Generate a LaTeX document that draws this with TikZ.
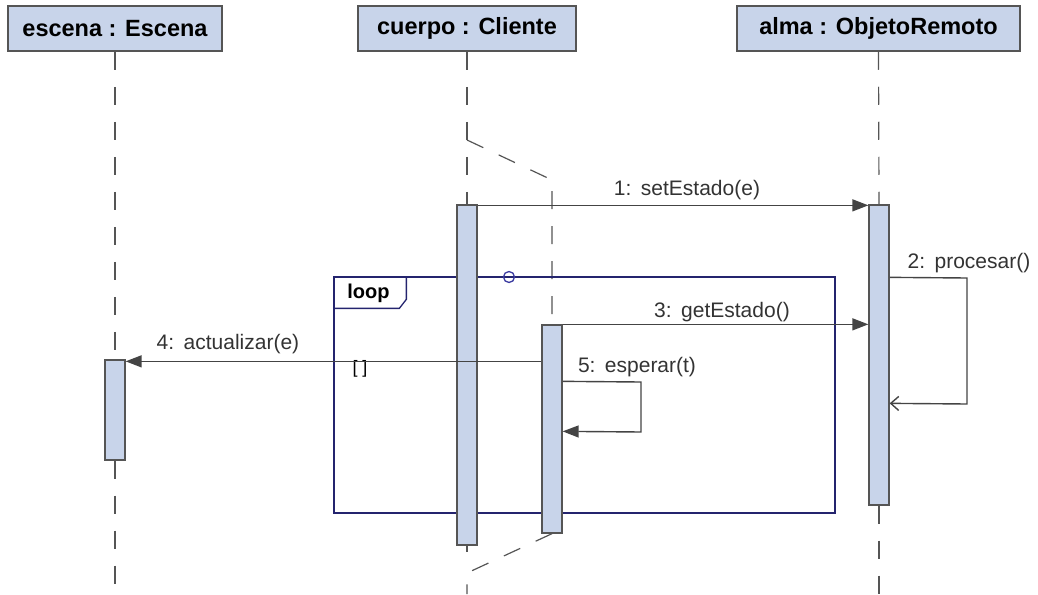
\documentclass[tikz,border=0pt]{standalone}
\usepackage{fontspec}
\setmainfont{Liberation Sans}
\usetikzlibrary{arrows.meta,calc}
\definecolor{barfill}{HTML}{C8D4EA}
\definecolor{edge}{HTML}{555555}
\definecolor{navy}{HTML}{24246E}
\definecolor{msgc}{HTML}{444444}
\definecolor{gatec}{HTML}{3A3AA0}
\pgfdeclarelayer{bg}
\pgfsetlayers{bg,main}
\begin{document}
\begin{tikzpicture}[x=1pt,y=-1pt,
  head/.style={draw=edge,fill=barfill,line width=1.5pt,minimum height=45pt,inner sep=0,
    font=\fontsize{23.5}{27}\selectfont\bfseries},
  bar/.style={draw=edge,fill=barfill,line width=1.3pt,minimum width=20pt,inner sep=0},
  life/.style={draw=edge,line width=1.2pt,dash pattern=on 18pt off 17pt},
  msg/.style={draw=msgc,line width=1.4pt,-{Triangle[length=16pt,width=12pt]}},
  ret/.style={draw=msgc,line width=1.4pt,-{Straight Barb[length=8pt,width=14pt]}},
  lbl/.style={font=\fontsize{21}{25}\selectfont,text=black!80,inner sep=0},
  frame/.style={draw=navy,line width=1.3pt},
]
\useasboundingbox (0,0) rectangle (1038,594);

% headers
\node[head,minimum width=214pt] (escena) at (115,28.5) {escena : Escena};
\node[head,minimum width=218pt] (cuerpo) at (467,28.5) {cuerpo : Cliente};
\node[head,minimum width=283pt] (alma) at (878.5,28.5) {alma : ObjetoRemoto};

% loop frame
\node[frame,minimum width=501pt,minimum height=236pt,inner sep=0] (loop) at (584.5,395) {};
\draw[frame] ($(loop.north west)+(73,0)$) -- ++(0,23) -- ++(-7,9) -- ($(loop.north west)+(0,32)$);
\node[font=\fontsize{20}{24}\selectfont\bfseries,inner sep=0] (looplbl) at ($(loop.north west)+(35,17)$) {loop};
\node[circle,draw=gatec,line width=1.3pt,minimum size=11pt,inner sep=0] (gate) at (509,277) {};
\node[font=\fontsize{18}{22}\selectfont,inner sep=0] (guard) at (360,369) {[ ]};

% activation bars
\node[bar,minimum height=100pt] (be) at (115,410) {};
\node[bar,minimum height=340pt] (bc) at (467,375) {};
\node[bar,minimum height=208pt] (bt) at (552,429) {};
\node[bar,minimum height=300pt] (ba) at (879,355) {};

% lifelines
\begin{pgfonlayer}{bg}
\coordinate (eend) at (115,594);
\coordinate (aend) at (879,594);
\coordinate (fork) at (467,140);
\coordinate (bend1) at (552,180);
\coordinate (join) at (467,573);
\coordinate (cend) at (467,594);
\coordinate (ctick) at (467,552);
\draw[life] (escena.south) -- (be.north);
\draw[life] (be.south) -- (eend);
\draw[life] (cuerpo.south) -- (bc.north);
\draw[life] (fork) -- (bend1) -- (bt.north);
\draw[life] (bt.south) -- (join) -- (cend);
\draw[edge,line width=1.2pt] (bc.south) -- (ctick);
\draw[life] (alma.south) -- (ba.north);
\draw[life] (ba.south) -- (aend);
\end{pgfonlayer}

% messages
\draw[msg] ($(bc.north east)+(0,1)$) -- ($(ba.north west)+(0,1)$);
\node[lbl] (l1) at (687,190) {1:\hspace{0.08em} setEstado(e)};

\coordinate (p2a) at (967,278);
\coordinate (p2b) at (967,404);
\draw[ret] ($(ba.north east)+(0,73)$) -- (p2a) -- (p2b) -- ($(ba.north east)+(0,199)$);
\node[lbl] (l2) at (969,263) {2:\hspace{0.08em} procesar()};

\draw[msg] ($(bt.north east)+(0,0)$) -- ($(ba.north west)+(0,120)$);
\node[lbl] (l3) at (722,312) {3:\hspace{0.08em} getEstado()};

\draw[msg] ($(bt.north west)+(0,37)$) -- ($(be.north east)+(0,2)$);
\node[lbl] (l4) at (228,344) {4:\hspace{0.08em} actualizar(e)};

\coordinate (p5a) at (641,382);
\coordinate (p5b) at (641,432);
\draw[msg] ($(bt.north east)+(0,57)$) -- (p5a) -- (p5b) -- ($(bt.north east)+(0,107)$);
\node[lbl] (l5) at (637,367) {5:\hspace{0.08em} esperar(t)};
\end{tikzpicture}
\end{document}
